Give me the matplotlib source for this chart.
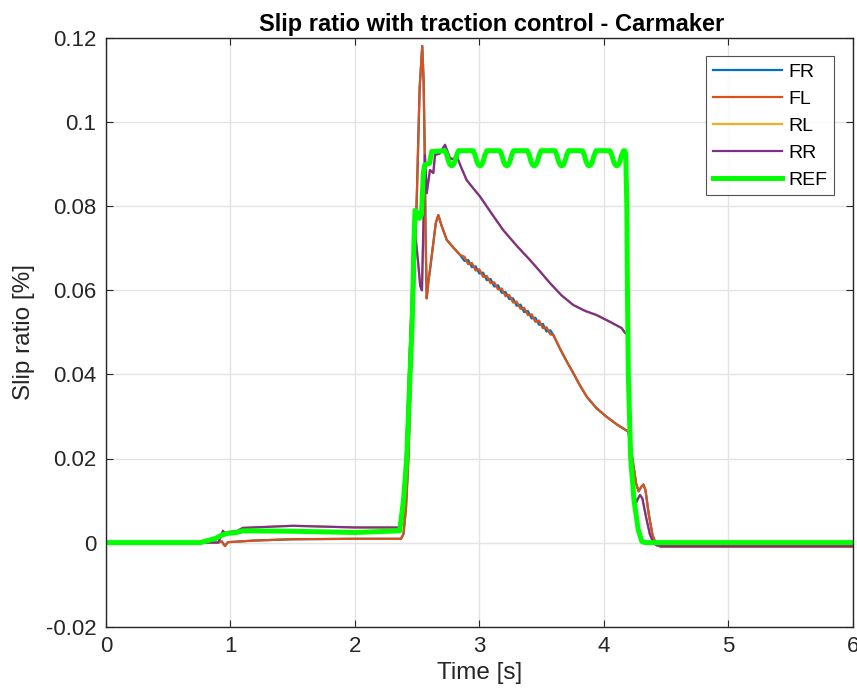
import matplotlib
matplotlib.use('Agg')
import matplotlib.pyplot as plt

plt.rcParams['font.family'] = ['Liberation Sans', 'DejaVu Sans']

# front wheels (FR / FL are the same except the ripple between 2.88 and 3.57 s)
t_front = [0, 0.90, 0.93, 0.955, 0.98, 1.2, 1.5, 2.0, 2.37, 2.39, 2.41, 2.43, 2.45,
           2.475, 2.50, 2.52, 2.541, 2.552, 2.56, 2.567, 2.577, 2.59, 2.603, 2.625,
           2.65, 2.67, 2.695, 2.738, 2.79, 2.845,
           2.88, 2.91, 2.94, 2.97, 3.00, 3.03, 3.06, 3.09, 3.12, 3.15, 3.18, 3.21,
           3.24, 3.27, 3.30, 3.33, 3.36, 3.39, 3.42, 3.45, 3.48, 3.51, 3.54, 3.57,
           3.594, 3.65, 3.70, 3.755, 3.81, 3.863, 3.94, 4.023, 4.11, 4.197, 4.23,
           4.26, 4.28, 4.30, 4.318, 4.335, 4.36, 4.39, 4.42, 4.46, 6.0]
fl = [0, 0, 0.0003, -0.0008, 0.0001, 0.0005, 0.0008, 0.0009, 0.0009, 0.002, 0.008,
      0.02, 0.04, 0.06, 0.085, 0.108, 0.1181, 0.11, 0.095, 0.075, 0.0581, 0.062,
      0.0648, 0.070, 0.076, 0.0779, 0.0755, 0.072, 0.0702, 0.0684,
      0.0680, 0.0662, 0.0665, 0.0647, 0.0650, 0.0632, 0.0634, 0.0617, 0.0619,
      0.0602, 0.0604, 0.0586, 0.0589, 0.0571, 0.0573, 0.0556, 0.0558, 0.0541,
      0.0543, 0.0525, 0.0528, 0.0510, 0.0512, 0.0495,
      0.0494, 0.0460, 0.0432, 0.0403, 0.0373, 0.0347, 0.0320, 0.0299, 0.0280,
      0.0264, 0.020, 0.014, 0.0122, 0.0132, 0.0138, 0.0125, 0.007, 0.002,
      -0.0005, -0.001, -0.001]
fr = [0, 0, 0.0003, -0.0008, 0.0001, 0.0005, 0.0008, 0.0009, 0.0009, 0.002, 0.008,
      0.02, 0.04, 0.06, 0.085, 0.108, 0.1181, 0.11, 0.095, 0.075, 0.0581, 0.062,
      0.0648, 0.070, 0.076, 0.0779, 0.0755, 0.072, 0.0702, 0.0684,
      0.0670, 0.0672, 0.0655, 0.0657, 0.0640, 0.0642, 0.0624, 0.0627, 0.0609,
      0.0612, 0.0594, 0.0596, 0.0579, 0.0581, 0.0563, 0.0566, 0.0548, 0.0551,
      0.0533, 0.0535, 0.0518, 0.0520, 0.0502, 0.0505,
      0.0494, 0.0460, 0.0432, 0.0403, 0.0373, 0.0347, 0.0320, 0.0299, 0.0280,
      0.0264, 0.020, 0.014, 0.0122, 0.0132, 0.0138, 0.0125, 0.007, 0.002,
      -0.0005, -0.001, -0.001]

# rear wheels (RL lies under RR)
t_rear = [0, 0.90, 0.925, 0.94, 0.955, 0.98, 1.05, 1.1, 1.5, 2.0, 2.365, 2.385,
          2.41, 2.44, 2.47, 2.49, 2.51, 2.525, 2.539, 2.55, 2.563, 2.577, 2.603,
          2.63, 2.644, 2.68, 2.724, 2.764, 2.79, 2.818, 2.85, 2.898, 3.005, 3.1,
          3.192, 3.3, 3.407, 3.49, 3.568, 3.66, 3.755, 3.85, 3.943, 4.05, 4.144,
          4.17, 4.19, 4.198, 4.215, 4.24, 4.26, 4.275, 4.291, 4.31, 4.34, 4.37,
          4.395, 4.42, 4.46, 6.0]
rr = [0, 0, 0.0015, 0.0028, 0.0022, 0.0025, 0.0027, 0.0035, 0.004, 0.0036, 0.0036,
      0.006, 0.02, 0.045, 0.068, 0.072, 0.066, 0.061, 0.060, 0.075, 0.0922, 0.0831,
      0.0886, 0.0879, 0.0922, 0.0925, 0.0946, 0.0914, 0.0912, 0.0919, 0.0895,
      0.0862, 0.0823, 0.0782, 0.0743, 0.0706, 0.0672, 0.0644, 0.0617, 0.0588,
      0.0565, 0.0551, 0.0541, 0.0525, 0.0510, 0.0499, 0.0495, 0.035, 0.02, 0.012,
      0.0095, 0.0105, 0.0113, 0.0105, 0.006, 0.002, 0.0002, -0.0006, -0.0008,
      -0.0008]
rl = list(rr)

# reference slip, rounded ripple on the plateau
t_ref = [0, 0.76, 0.82, 0.88, 0.93, 0.98, 1.05, 1.1, 1.5, 2.0, 2.36, 2.39, 2.416,
         2.443, 2.46, 2.475, 2.483, 2.50, 2.518, 2.535, 2.55, 2.56, 2.60, 2.617,
         2.723, 2.738, 2.753, 2.766, 2.778, 2.790, 2.803, 2.818, 2.833,
         2.950, 2.965, 2.980, 2.993, 3.005, 3.017, 3.030, 3.045, 3.060,
         3.165, 3.180, 3.195, 3.208, 3.220, 3.232, 3.245, 3.260, 3.275,
         3.386, 3.401, 3.416, 3.429, 3.441, 3.453, 3.466, 3.481, 3.496,
         3.607, 3.622, 3.637, 3.650, 3.662, 3.674, 3.687, 3.702, 3.717,
         3.828, 3.843, 3.858, 3.871, 3.883, 3.895, 3.908, 3.923, 3.938,
         4.049, 4.064, 4.079, 4.092, 4.104, 4.116, 4.129, 4.144, 4.159,
         4.168, 4.176, 4.185, 4.19, 4.197, 4.216, 4.243, 4.277, 4.305, 4.33, 6.0]
ref = [0, 0, 0.0005, 0.001, 0.0018, 0.0022, 0.0024, 0.0028, 0.0027, 0.0024,
       0.0028, 0.01, 0.02, 0.04, 0.052, 0.072, 0.079, 0.0785, 0.0771, 0.078,
       0.088, 0.0898, 0.0902, 0.093,
       0.0932, 0.0922, 0.0906, 0.0898, 0.0896, 0.0898, 0.0906, 0.0922, 0.0932,
       0.0932, 0.0922, 0.0906, 0.0898, 0.0896, 0.0898, 0.0906, 0.0922, 0.0932,
       0.0932, 0.0922, 0.0906, 0.0898, 0.0896, 0.0898, 0.0906, 0.0922, 0.0932,
       0.0932, 0.0922, 0.0906, 0.0898, 0.0896, 0.0898, 0.0906, 0.0922, 0.0932,
       0.0932, 0.0922, 0.0906, 0.0898, 0.0896, 0.0898, 0.0906, 0.0922, 0.0932,
       0.0932, 0.0922, 0.0906, 0.0898, 0.0896, 0.0898, 0.0906, 0.0922, 0.0932,
       0.0932, 0.0922, 0.0906, 0.0898, 0.0896, 0.0898, 0.0906, 0.0922, 0.0932,
       0.0932, 0.0925, 0.080, 0.06, 0.04, 0.02, 0.010, 0.003, 0.0003, 0, 0]

x_ticks = [0, 1, 2, 3, 4, 5, 6]
y_ticks = [-0.02, 0, 0.02, 0.04, 0.06, 0.08, 0.1, 0.12]
y_tick_labels = ['-0.02', '0', '0.02', '0.04', '0.06', '0.08', '0.1', '0.12']

dark = '#262626'

fig = plt.figure(figsize=(8.57, 6.99), dpi=100)
ax = fig.add_axes([106 / 857, 1 - 626.7 / 699, 746.7 / 857, 588.7 / 699])

ax.plot(t_front, fr, color='#0072BD', lw=1.6, label='FR')
ax.plot(t_front, fl, color='#D95319', lw=1.6, label='FL')
ax.plot(t_rear, rl, color='#EDB120', lw=1.6, label='RL')
ax.plot(t_rear, rr, color='#7E2F8E', lw=1.6, label='RR')
ax.plot(t_ref, ref, color='#00FF00', lw=3.6, label='REF')

ax.set_xlim(0, 6)
ax.set_ylim(-0.02, 0.12)
ax.set_xticks(x_ticks)
ax.set_xticklabels([str(v) for v in x_ticks])
ax.set_yticks(y_ticks)
ax.set_yticklabels(y_tick_labels)

ax.grid(True, color='#e3e3e3', lw=1.0)
ax.set_axisbelow(True)
for s in ax.spines.values():
    s.set_color(dark)
    s.set_linewidth(1.0)
ax.tick_params(direction='in', length=5, width=0.8, colors=dark,
               labelsize=16, top=True, right=True, pad=7)

ax.set_title('Slip ratio with traction control - Carmaker', fontsize=17,
             fontweight='bold', color='black', pad=5, x=0.517)
ax.set_xlabel('Time [s]', fontsize=17.5, color=dark, labelpad=3)
ax.set_ylabel('Slip ratio [%]', fontsize=17.5, color=dark, labelpad=8)

leg = ax.legend(loc='upper right', fontsize=14, frameon=True, fancybox=False,
                handlelength=3.55, handletextpad=0.35, labelspacing=0.48,
                borderpad=0.35, borderaxespad=0.95, edgecolor=dark)
leg.get_frame().set_linewidth(0.8)

fig.savefig('out.png', dpi=100)
